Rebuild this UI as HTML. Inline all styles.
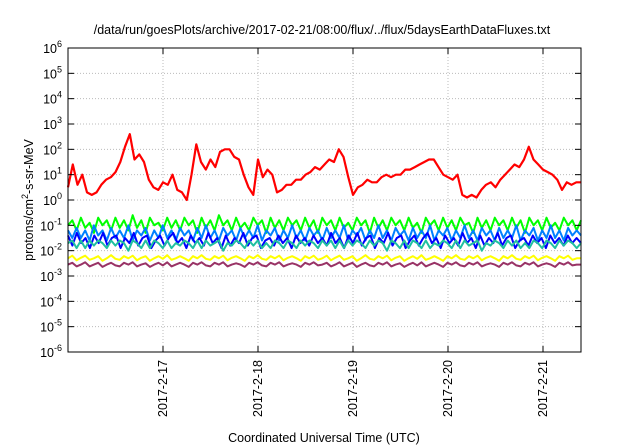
<!DOCTYPE html>
<html><head><meta charset="utf-8"><style>
html,body{margin:0;padding:0;background:#fff;}
svg{display:block;font-family:"Liberation Sans",sans-serif;}
</style></head><body>
<svg id="chart" width="640" height="448" viewBox="0 0 640 448">
<text x="322" y="34" font-size="12.5" text-anchor="middle">/data/run/goesPlots/archive/2017-02-21/08:00/flux/../flux/5daysEarthDataFluxes.txt</text>
<text transform="translate(33,200) rotate(-90)" font-size="12.5" text-anchor="middle">protons/cm<tspan dy="-5" font-size="9">2</tspan><tspan dy="5">-s-sr-MeV</tspan></text>
<text x="324" y="442" font-size="12.5" text-anchor="middle">Coordinated Universal Time (UTC)</text>
<g id="grid"></g>
<g id="series"></g>
<rect x="68" y="48" width="513" height="304" fill="none" stroke="#000" stroke-width="1"/>
<g id="axes"></g>
</svg>
<script>
const xTickLabels=["2017-2-17","2017-2-18","2017-2-19","2017-2-20","2017-2-21"];
const xTickDays=[1,2,3,4,5];
const yTickExponents=[-6,-5,-4,-3,-2,-1,0,1,2,3,4,5,6];
const dayStart=0, dayEnd=5.4;
const redStep=0.05;
const redLog10=[0.5,1.4,0.6,1.0,0.3,0.2,0.3,0.6,0.8,0.9,1.1,1.5,2.1,2.6,1.6,1.8,1.5,0.8,0.5,0.4,0.7,0.6,1.0,0.4,0.3,0.0,1.0,2.2,1.5,1.2,1.6,1.3,1.9,2.0,2.0,1.7,1.6,1.0,0.5,0.2,1.6,0.9,1.2,1.0,0.3,0.4,0.6,0.6,0.8,0.8,1.0,1.1,1.3,1.2,1.4,1.6,1.5,2.0,1.7,0.9,0.2,0.5,0.6,0.8,0.7,0.7,0.9,1.0,0.9,1.0,1.0,1.2,1.2,1.3,1.4,1.5,1.6,1.6,1.3,1.0,0.9,0.8,1.0,0.2,0.1,0.2,0.1,0.4,0.6,0.7,0.5,0.8,1.0,1.2,1.4,1.3,1.6,2.1,1.6,1.4,1.2,1.1,1.0,0.8,0.4,0.7,0.6,0.7,0.7];
const greenLog10=[-1.0,-0.8,-1.2,-0.7,-1.1,-0.9,-1.3,-0.7,-1.0,-0.8,-1.2,-0.7,-1.1,-0.8,-1.2,-0.6,-1.1,-0.8,-1.3,-0.7,-1.0,-0.9,-1.2,-0.7,-1.1,-0.8,-1.2,-0.7,-1.0,-0.8,-1.3,-0.7,-1.1,-0.8,-1.2,-0.6,-1.0,-0.8,-1.2,-0.7,-1.1,-0.9,-1.2,-0.7,-1.0,-0.8,-1.3,-0.7,-1.1,-0.8,-1.2,-0.7,-1.0,-0.8,-1.2,-0.7,-1.1,-0.8,-1.3,-0.7,-1.0,-0.8,-1.2,-0.7,-1.1,-0.9,-1.2,-0.7,-1.0,-0.8,-1.3,-0.7,-1.1,-0.8,-1.2,-0.7,-1.0,-0.8,-1.2,-0.7,-1.1,-0.9,-1.3,-0.7,-1.0,-0.8,-1.2,-0.7,-1.1,-0.8,-1.2,-0.7,-1.0,-0.9,-1.3,-0.7,-1.1,-0.8,-1.2,-0.7,-1.0,-0.8,-1.2,-0.7,-1.1,-0.8,-1.3,-0.7,-1.0,-0.8,-1.2,-0.7,-1.1,-0.9,-1.2,-0.7,-1.0,-0.8,-1.2,-0.8];
const lightBlueLog10=[-1.2,-1.5,-1.1,-1.5,-1.2,-1.6,-1.0,-1.4,-1.2,-1.6,-1.1,-1.5,-1.2,-1.5,-1.0,-1.6,-1.2,-1.4,-1.1,-1.6,-1.2,-1.5,-1.0,-1.5,-1.2,-1.6,-1.1,-1.4,-1.2,-1.6,-1.1,-1.5,-1.0,-1.5,-1.2,-1.6,-1.1,-1.4,-1.2,-1.6,-1.1,-1.5,-1.2,-1.5,-1.0,-1.6,-1.2,-1.4,-1.1,-1.6,-1.2,-1.5,-1.0,-1.5,-1.2,-1.6,-1.1,-1.4,-1.2,-1.6,-1.1,-1.5,-1.2,-1.5,-1.0,-1.6,-1.2,-1.4,-1.1,-1.6,-1.2,-1.5,-1.0,-1.5,-1.2,-1.6,-1.1,-1.4,-1.2,-1.6,-1.1,-1.5,-1.2,-1.5,-1.0,-1.6,-1.2,-1.4,-1.1,-1.6,-1.2,-1.5,-1.0,-1.5,-1.2,-1.6,-1.1,-1.4,-1.2,-1.6,-1.1,-1.5,-1.2,-1.5,-1.0,-1.6,-1.2,-1.4,-1.1,-1.6,-1.2,-1.5,-1.0,-1.5,-1.2,-1.6,-1.1,-1.4,-1.2,-1.4];
const blueLog10=[-1.4,-1.8,-1.3,-1.7,-1.5,-1.9,-1.4,-1.7,-1.3,-1.8,-1.5,-1.4,-1.9,-1.5,-1.7,-1.3,-1.8,-1.5,-1.4,-1.9,-1.6,-1.4,-1.8,-1.5,-1.3,-1.7,-1.5,-1.9,-1.4,-1.7,-1.5,-1.8,-1.3,-1.7,-1.5,-1.9,-1.4,-1.8,-1.5,-1.7,-1.3,-1.8,-1.5,-1.4,-1.9,-1.6,-1.5,-1.8,-1.4,-1.7,-1.5,-1.9,-1.4,-1.7,-1.5,-1.8,-1.4,-1.7,-1.5,-1.8,-1.3,-1.7,-1.5,-1.9,-1.4,-1.7,-1.3,-1.8,-1.5,-1.4,-1.9,-1.5,-1.7,-1.3,-1.8,-1.5,-1.4,-1.9,-1.6,-1.4,-1.8,-1.5,-1.3,-1.7,-1.5,-1.9,-1.4,-1.7,-1.5,-1.8,-1.3,-1.7,-1.5,-1.9,-1.4,-1.8,-1.5,-1.7,-1.3,-1.8,-1.5,-1.4,-1.9,-1.6,-1.5,-1.8,-1.4,-1.7,-1.5,-1.9,-1.4,-1.7,-1.5,-1.8,-1.4,-1.7,-1.5,-1.7];
const tealLog10=[-1.7,-1.6,-1.9,-1.6,-1.9,-1.6,-1.8,-1.6,-1.7,-1.9,-1.6,-1.8,-1.6,-1.7,-2.0,-1.6,-1.7,-1.9,-1.6,-1.9,-1.6,-1.7,-1.9,-1.6,-1.9,-1.7,-1.8,-1.6,-1.7,-1.9,-1.6,-1.9,-1.6,-1.8,-1.7,-1.6,-2.0,-1.7,-1.8,-1.6,-1.7,-1.9,-1.6,-1.8,-1.6,-1.9,-1.7,-1.9,-1.6,-1.7,-1.9,-1.6,-1.7,-1.9,-1.6,-1.8,-1.6,-1.7,-1.9,-1.6,-1.8,-1.6,-1.9,-1.6,-1.9,-1.6,-1.8,-1.6,-1.7,-1.9,-1.6,-1.8,-1.6,-1.7,-2.0,-1.6,-1.7,-1.9,-1.6,-1.9,-1.6,-1.7,-1.9,-1.6,-1.9,-1.7,-1.8,-1.6,-1.7,-1.9,-1.6,-1.9,-1.6,-1.8,-1.7,-1.6,-2.0,-1.7,-1.8,-1.6,-1.7,-1.9,-1.6,-1.8,-1.6,-1.9,-1.7,-1.9,-1.6,-1.7,-1.9,-1.6,-1.7,-1.9,-1.6,-1.8,-1.6,-1.7,-1.9,-1.7];
const yellowLog10=[-2.3,-2.2,-2.38,-2.28,-2.2,-2.36,-2.3,-2.22,-2.4,-2.3,-2.18,-2.32,-2.36,-2.22,-2.3,-2.2,-2.38,-2.28,-2.22,-2.4,-2.3,-2.22,-2.32,-2.18,-2.36,-2.3,-2.22,-2.3,-2.4,-2.22,-2.3,-2.18,-2.32,-2.36,-2.22,-2.3,-2.2,-2.38,-2.28,-2.22,-2.3,-2.4,-2.22,-2.3,-2.18,-2.32,-2.36,-2.22,-2.3,-2.2,-2.38,-2.28,-2.22,-2.3,-2.4,-2.22,-2.3,-2.2,-2.36,-2.3,-2.2,-2.38,-2.28,-2.2,-2.36,-2.3,-2.22,-2.4,-2.3,-2.18,-2.32,-2.36,-2.22,-2.3,-2.2,-2.38,-2.28,-2.22,-2.4,-2.3,-2.22,-2.32,-2.18,-2.36,-2.3,-2.22,-2.3,-2.4,-2.22,-2.3,-2.18,-2.32,-2.36,-2.22,-2.3,-2.2,-2.38,-2.28,-2.22,-2.3,-2.4,-2.22,-2.3,-2.18,-2.32,-2.36,-2.22,-2.3,-2.2,-2.38,-2.28,-2.22,-2.3,-2.4,-2.22,-2.3,-2.2,-2.36,-2.3,-2.3];
const purpleLog10=[-2.55,-2.48,-2.62,-2.55,-2.46,-2.62,-2.55,-2.48,-2.64,-2.55,-2.48,-2.58,-2.62,-2.48,-2.55,-2.46,-2.62,-2.55,-2.5,-2.64,-2.55,-2.48,-2.58,-2.46,-2.62,-2.55,-2.48,-2.55,-2.64,-2.48,-2.55,-2.46,-2.58,-2.62,-2.48,-2.55,-2.46,-2.62,-2.55,-2.5,-2.55,-2.64,-2.48,-2.55,-2.46,-2.58,-2.62,-2.48,-2.55,-2.46,-2.62,-2.55,-2.5,-2.55,-2.64,-2.48,-2.55,-2.46,-2.58,-2.55,-2.48,-2.62,-2.55,-2.46,-2.62,-2.55,-2.48,-2.64,-2.55,-2.48,-2.58,-2.62,-2.48,-2.55,-2.46,-2.62,-2.55,-2.5,-2.64,-2.55,-2.48,-2.58,-2.46,-2.62,-2.55,-2.48,-2.55,-2.64,-2.48,-2.55,-2.46,-2.58,-2.62,-2.48,-2.55,-2.46,-2.62,-2.55,-2.5,-2.55,-2.64,-2.48,-2.55,-2.46,-2.58,-2.62,-2.48,-2.55,-2.46,-2.62,-2.55,-2.5,-2.55,-2.64,-2.48,-2.55,-2.46,-2.58,-2.55,-2.55];

const L=68,R=581,T=48,B=352;
const xs=d=>L+(d-dayStart)/(dayEnd-dayStart)*(R-L);
const ys=e=>B-(e+6)/12*(B-T);
const NS="http://www.w3.org/2000/svg";
function mk(tag,parent,attrs){const el=document.createElementNS(NS,tag);for(const k in attrs)el.setAttribute(k,attrs[k]);parent.appendChild(el);return el;}
const grid=document.getElementById('grid'),axes=document.getElementById('axes'),series=document.getElementById('series');
yTickExponents.forEach(e=>{
  const y=ys(e);
  if(e>-6&&e<6){const g=mk('line',grid,{x1:L,x2:R,y1:y,y2:y,stroke:'#bbb','stroke-dasharray':'1,2','stroke-width':1});
  
  }
  const t1=mk('line',axes,{x1:L,x2:L+6,y1:y,y2:y,stroke:'#000'});
  
  
  const t2=mk('line',axes,{x1:R-6,x2:R,y1:y,y2:y,stroke:'#000'});
  
  
  const tx=mk('text',axes,{x:62,y:y+5,'font-size':12.5,'text-anchor':'end'});
  
  
  tx.innerHTML='10<tspan dy="-6" font-size="9">'+e+'</tspan>';
});
xTickDays.forEach((d,i)=>{
  const x=xs(d);
  const g=mk('line',grid,{x1:x,x2:x,y1:T,y2:B,stroke:'#bbb','stroke-dasharray':'1,2','stroke-width':1});
  
  
  const t1=mk('line',axes,{x1:x,x2:x,y1:B-6,y2:B,stroke:'#000'});
  
  
  const t2=mk('line',axes,{x1:x,x2:x,y1:T,y2:T+6,stroke:'#000'});
  
  
  const tx=mk('text',axes,{transform:`translate(${x+4},${B+8}) rotate(-90)`,'font-size':12.5,'text-anchor':'end'});
  
  
  tx.textContent=xTickLabels[i];
});
function line(vals,color,w,name){
  const step=(dayEnd-dayStart)/(vals.length-1);
  const pts=vals.map((v,i)=>xs(dayStart+i*step).toFixed(1)+','+ys(v).toFixed(1)).join(' ');
  const p=mk('polyline',series,{points:pts,fill:'none',stroke:color,'stroke-width':w,'stroke-linejoin':'round'});
  
  
}
line(greenLog10,'#00ff00',2,'series-green');
line(lightBlueLog10,'#0080ff',2,'series-light-blue');
line(blueLog10,'#0000ff',2,'series-blue');
line(tealLog10,'#20c0a0',2,'series-teal');
line(yellowLog10,'#ffff00',2,'series-yellow');
line(purpleLog10,'#993366',2,'series-purple');
(function(){
  const pts=redLog10.map((v,i)=>xs(dayStart+i*redStep).toFixed(1)+','+ys(v).toFixed(1)).join(' ');
  const p=mk('polyline',series,{points:pts,fill:'none',stroke:'#ff0000','stroke-width':2.2,'stroke-linejoin':'round'});
  
  
})();
</script>
</body></html>
